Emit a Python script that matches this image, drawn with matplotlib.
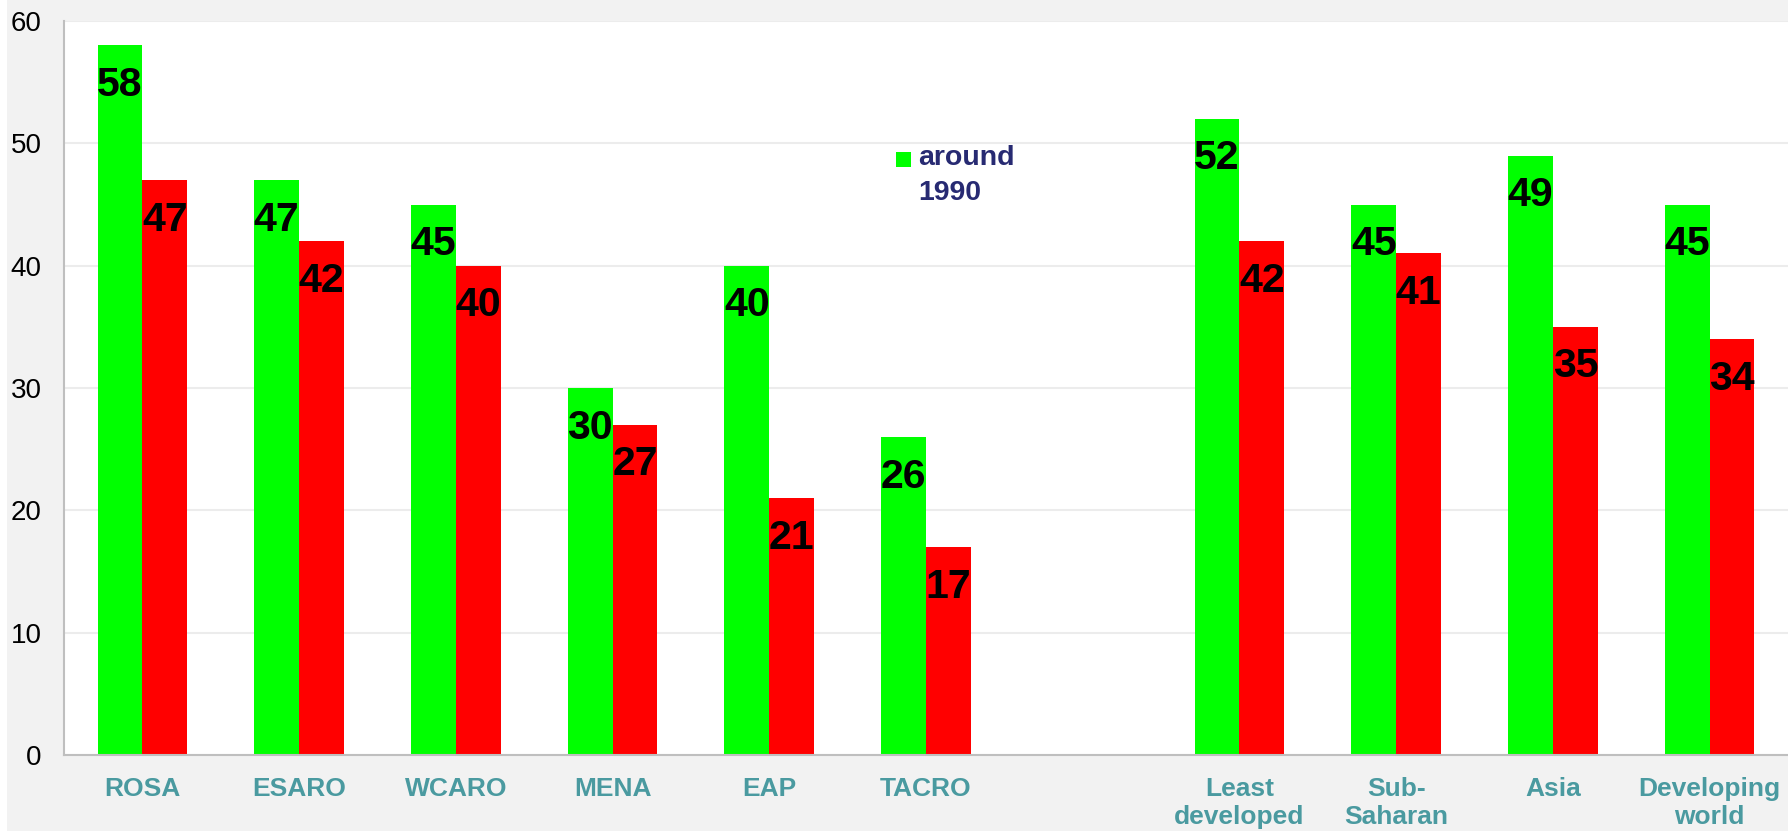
import numpy as np
import matplotlib
matplotlib.use("Agg")
import matplotlib.pyplot as plt
from matplotlib.patches import Rectangle

plt.rcParams['font.family'] = ['Liberation Sans', 'DejaVu Sans']

regions = ["ROSA", "ESARO", "WCARO", "MENA", "EAP", "TACRO", "",
           "Least\ndeveloped", "Sub-\nSaharan", "Asia", "Developing\nworld"]
around_1990 = [58, 47, 45, 30, 40, 26, np.nan, 52, 45, 49, 45]
latest = [47, 42, 40, 27, 21, 17, np.nan, 42, 41, 35, 34]

W, H = 1788, 831
fig = plt.figure(figsize=(W / 100, H / 100), dpi=100, facecolor="#f2f2f2")
# thin white strip on the far left
fig.patches.append(Rectangle((0, 0), 7 / W, 1, transform=fig.transFigure,
                             facecolor="white", edgecolor="none", zorder=-1))

ax = fig.add_axes([64 / W, (H - 755) / H, (W - 64) / W, (755 - 21) / H])
ax.set_facecolor("white")

x = np.arange(len(regions))
w = 0.286
b1 = ax.bar(x - w / 2, around_1990, w, color="#00ff00", zorder=2)
b2 = ax.bar(x + w / 2, latest, w, color="#ff0000", zorder=2)

for bars, vals in ((b1, around_1990), (b2, latest)):
    for r, v in zip(bars, vals):
        if np.isnan(v):
            continue
        ax.annotate(f"{v:.0f}", (r.get_x() + r.get_width() / 2, v),
                    xytext=(0, -28.5), textcoords="offset points",
                    ha="center", va="center", fontsize=29.5, fontweight="bold",
                    color="black", zorder=3)

ax.set_xlim(-0.5, 10.5)
ax.set_ylim(0, 60)
ax.set_yticks(range(0, 61, 10))
ax.tick_params(axis="y", length=0, pad=16, labelsize=20, labelcolor="black")
ax.set_xticks(x)
ax.set_xticklabels(regions, fontsize=19, fontweight="bold", color="#4a9aa0",
                   linespacing=1.2, va="top")
ax.tick_params(axis="x", length=0, pad=16)

ax.yaxis.grid(True, color="#ececec", linewidth=1.5, zorder=0)
ax.set_axisbelow(True)
for s in ("top", "right"):
    ax.spines[s].set_visible(False)
for s in ("left", "bottom"):
    ax.spines[s].set_color("#bfbfbf")
    ax.spines[s].set_linewidth(1.5)

# legend entry for the first series only
fig.patches.append(Rectangle((896 / W, (H - 167) / H), 15 / W, 15 / H,
                             transform=fig.transFigure, facecolor="#00ff00",
                             edgecolor="none", zorder=5))
fig.text(918 / W, (H - 145) / H, "around\n1990", ha="left", va="top",
         fontsize=20.5, fontweight="bold", color="#272a72", linespacing=1.45,
         transform=fig.transFigure)

fig.savefig("out.png", dpi=100, facecolor=fig.get_facecolor())
